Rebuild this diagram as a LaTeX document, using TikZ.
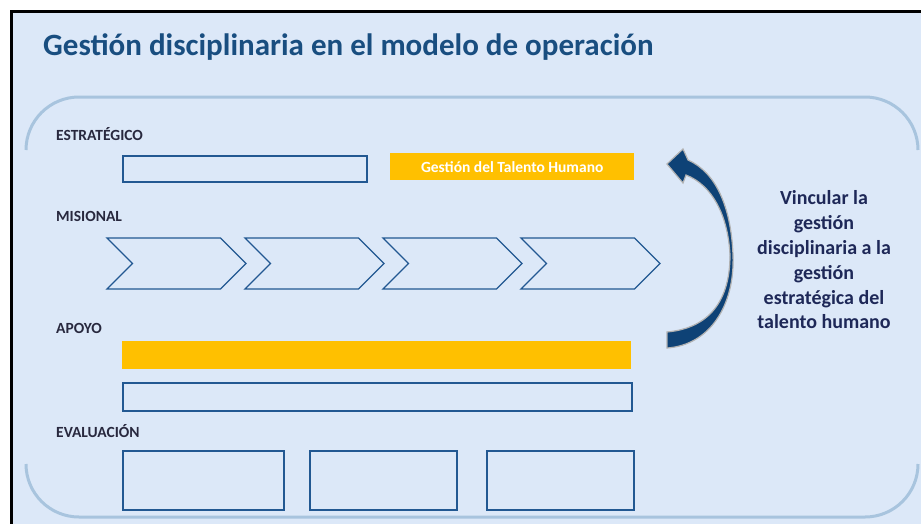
\documentclass[tikz,border=0pt]{standalone}
\usepackage{fontspec}
\setmainfont{Carlito}
\usetikzlibrary{shapes.symbols}
\definecolor{fondo}{RGB}{220,232,248}
\definecolor{titulo}{RGB}{25,78,128}
\definecolor{azul}{RGB}{34,88,146}
\definecolor{marco}{RGB}{168,196,222}
\definecolor{naranja}{RGB}{255,192,0}
\definecolor{etiq}{RGB}{40,40,62}
\definecolor{texto}{RGB}{30,40,88}
\definecolor{flecha}{RGB}{14,66,118}

\begin{document}
\begin{tikzpicture}[x=1pt,y=-1pt,
  caja/.style={draw=azul,line width=1.8pt,inner sep=0,anchor=north west},
  barra/.style={fill=naranja,inner sep=0,anchor=north west},
  etiqueta/.style={anchor=base west,inner sep=0,text=etiq,font=\fontsize{15.5}{18}\selectfont\bfseries},
  chevron/.style={shape=signal,signal from=west,signal to=east,signal pointer angle=90,draw=azul,line width=1.3pt,minimum width=139pt,minimum height=51pt,inner sep=0}]
  \useasboundingbox (0,0) rectangle (921,523);
  \clip (0,0) rectangle (921,523);
  \draw[fill=fondo,line width=3pt] (11,11.5) rectangle (930,530);
  % marco redondeado
  \draw[marco,line width=3pt] (26,150) arc[start angle=180,end angle=270,radius=53] -- (865,97) arc[start angle=270,end angle=360,radius=53];
  \draw[marco,line width=3pt] (26,464) arc[start angle=180,end angle=90,radius=53] -- (865,517) arc[start angle=90,end angle=0,radius=53];
  % titulo
  \node[anchor=base west,inner sep=0,text=titulo,font=\fontsize{31}{37}\selectfont\bfseries] (titulo) at (43,55) {Gestión disciplinaria en el modelo de operación};
  % niveles
  \node[etiqueta] (estrategico) at (56,140) {ESTRATÉGICO};
  \node[etiqueta] (misional) at (56,221) {MISIONAL};
  \node[etiqueta] (apoyo) at (56,333) {APOYO};
  \node[etiqueta] (evaluacion) at (56,437) {EVALUACIÓN};
  \node[caja,minimum width=244pt,minimum height=26pt] (est1) at (122,155) {};
  \node[barra,minimum width=244pt,minimum height=27pt,text=white,font=\fontsize{15.5}{17}\selectfont\bfseries] (talento) at (390,153) {Gestión del Talento Humano};
  \foreach \i in {0,...,3}
    \node[chevron] (mis\i) at ({176.5+138*\i},263.5) {};
  \node[barra,minimum width=509pt,minimum height=28pt] (apo1) at (122,341) {};
  \node[caja,minimum width=509pt,minimum height=28pt] (apo2) at (122,382) {};
  \node[caja,minimum width=161pt,minimum height=59pt] (eva1) at (122,450) {};
  \node[caja,minimum width=147pt,minimum height=59pt] (eva2) at (309,450) {};
  \node[caja,minimum width=147pt,minimum height=59pt] (eva3) at (486,450) {};
  % flecha curva
  \draw[fill=flecha,draw=black!30,line width=1.2pt]
    (667,348) .. controls (710,345) and (735,305) .. (733,255)
    .. controls (731,205) and (715,172) .. (688,160)
    -- (683,149) -- (667,164) -- (683,183) -- (686,175)
    .. controls (712,185) and (728,215) .. (730,255)
    .. controls (730,300) and (710,328) .. (667,332) -- cycle;
  \node[align=center,text=texto,font=\fontsize{20}{24.8}\selectfont\bfseries] (vinculo) at (824,260) {Vincular la\\gestión\\disciplinaria a la\\gestión\\estratégica del\\talento humano};
\end{tikzpicture}
\end{document}
